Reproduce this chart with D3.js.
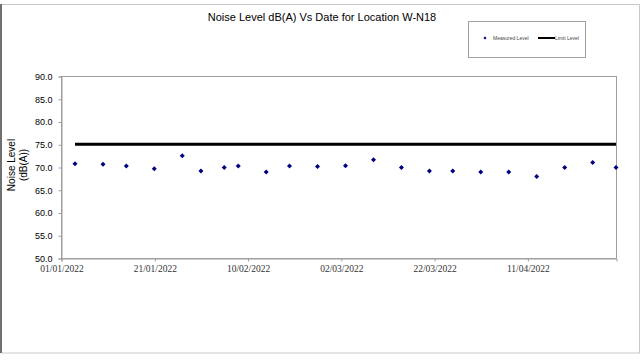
<!DOCTYPE html>
<html>
<head>
<meta charset="utf-8">
<script src="https://cdn.jsdelivr.net/npm/d3@7"></script>
<style>
  body { margin: 0; background: #fff; }
  svg { display: block; }
</style>
</head>
<body>
<svg id="chart" width="643" height="360"></svg>
<script>
// measured dates and levels
const sampleDates = ["2022-01-04", "2022-01-10", "2022-01-15", "2022-01-21", "2022-01-27",
    "2022-01-31", "2022-02-05", "2022-02-08", "2022-02-14", "2022-02-19", "2022-02-25",
    "2022-03-03", "2022-03-09", "2022-03-15", "2022-03-21", "2022-03-26", "2022-04-01",
    "2022-04-07", "2022-04-13", "2022-04-19", "2022-04-25", "2022-04-30"];
const measuredLevels = [70.7, 70.6, 70.2, 69.6, 72.5, 69.1, 69.9, 70.2, 68.9, 70.2, 70.1,
    70.3, 71.6, 69.9, 69.1, 69.1, 68.9, 68.9, 67.9, 69.9, 71.0, 69.9];
const limitLevel = 75;
const yTicks = [50, 55, 60, 65, 70, 75, 80, 85, 90];
const xTickLabels = ["01/01/2022", "21/01/2022", "10/02/2022", "02/03/2022", "22/03/2022", "11/04/2022"];

const parseDate = d3.timeParse("%Y-%m-%d");
const parseLabel = d3.timeParse("%d/%m/%Y");
const points = sampleDates.map(function (d, i) {
    return { date: parseDate(d), level: measuredLevels[i] };
});

const svg = d3.select("#chart");
const plot = { left: 61, right: 616, top: 76, bottom: 258 };

// square diamond marker
function diamondPath(r) {
    return `M0,${-r}L${r},0L0,${r}L${-r},0Z`;
}

// outer frame
svg.append("rect")
    .attr("x", 1.5).attr("y", 4.5)
    .attr("width", 638).attr("height", 348.5)
    .attr("fill", "none")
    .attr("stroke", "#c8c8c8");
svg.append("line")
    .attr("x1", 1).attr("x2", 1).attr("y1", 4).attr("y2", 353)
    .attr("stroke", "#707070").attr("stroke-width", 2);

const X = d3.scaleTime()
    .domain([parseDate("2022-01-01"), parseDate("2022-04-30")])
    .range([plot.left, plot.right]);
const Y = d3.scaleLinear()
    .domain([50, 90])
    .range([plot.bottom, plot.top]);

// title
svg.append("text")
    .attr("x", 322).attr("y", 21)
    .attr("text-anchor", "middle")
    .style("font-family", "Liberation Sans, Arial, sans-serif")
    .style("font-size", "11px")
    .text("Noise Level dB(A) Vs Date for Location W-N18");

// plot border
svg.append("rect")
    .attr("x", plot.left + 0.5).attr("y", plot.top + 0.5)
    .attr("width", plot.right - plot.left).attr("height", plot.bottom - plot.top)
    .attr("fill", "none")
    .attr("stroke", "#a0a0a0");

// y axis
const yAxis = d3.axisLeft(Y)
    .tickValues(yTicks)
    .tickFormat(d3.format(".1f"))
    .tickSize(3)
    .tickPadding(6);
const gy = svg.append("g")
    .attr("transform", `translate(${plot.left + 0.5},0.5)`)
    .call(yAxis);
gy.select(".domain").attr("stroke", "#a0a0a0");
gy.selectAll(".tick line").attr("stroke", "#a0a0a0");
gy.selectAll(".tick text")
    .style("font-family", "Liberation Sans, Arial, sans-serif")
    .style("font-size", "9px")
    .attr("fill", "#000");

// x axis
const xAxis = d3.axisBottom(X)
    .tickValues(xTickLabels.map(parseLabel))
    .tickFormat(d3.timeFormat("%d/%m/%Y"))
    .tickSize(3)
    .tickPadding(4);
const gx = svg.append("g")
    .attr("transform", `translate(0.5,${plot.bottom + 0.5})`)
    .call(xAxis);
gx.select(".domain").attr("stroke", "#a0a0a0");
gx.selectAll(".tick line").attr("stroke", "#a0a0a0");
gx.selectAll(".tick text")
    .style("font-family", "Liberation Serif, Times New Roman, serif")
    .style("font-size", "9.5px")
    .attr("fill", "#333");

// y axis title
const ylab = svg.append("text")
    .attr("transform", "translate(17,165) rotate(-90)")
    .attr("text-anchor", "middle")
    .style("font-family", "Liberation Sans, Arial, sans-serif")
    .style("font-size", "10px");
ylab.append("tspan").attr("x", 0).attr("dy", "-0.2em").text("Noise Level");
ylab.append("tspan").attr("x", 0).attr("dy", "1.15em").text("(dB(A))");

// limit line
svg.append("line")
    .attr("x1", X(points[0].date)).attr("x2", X(points[points.length - 1].date))
    .attr("y1", Y(limitLevel)).attr("y2", Y(limitLevel))
    .attr("stroke", "#000")
    .attr("stroke-width", 3);

// measured points
svg.selectAll("path.measured")
    .data(points)
    .enter()
    .append("path")
    .attr("class", "measured")
    .attr("d", diamondPath(2.5))
    .attr("transform", d => `translate(${X(d.date)},${Y(d.level)})`)
    .attr("fill", "#000080");

// legend
const legend = svg.append("g");
legend.append("rect")
    .attr("x", 468.5).attr("y", 21.5)
    .attr("width", 117).attr("height", 36)
    .attr("fill", "#fff")
    .attr("stroke", "#a0a0a0");
legend.append("path")
    .attr("d", diamondPath(1.6))
    .attr("transform", "translate(485,38)")
    .attr("fill", "#000080");
legend.append("text")
    .attr("x", 493).attr("y", 40)
    .style("font-family", "Liberation Sans, Arial, sans-serif")
    .style("font-size", "5px")
    .attr("fill", "#444")
    .text("Measured Level");
legend.append("line")
    .attr("x1", 538).attr("x2", 555)
    .attr("y1", 38).attr("y2", 38)
    .attr("stroke", "#000").attr("stroke-width", 2);
legend.append("text")
    .attr("x", 555).attr("y", 40)
    .style("font-family", "Liberation Sans, Arial, sans-serif")
    .style("font-size", "5px")
    .attr("fill", "#444")
    .text("Limit Level");
</script>
</body>
</html>
